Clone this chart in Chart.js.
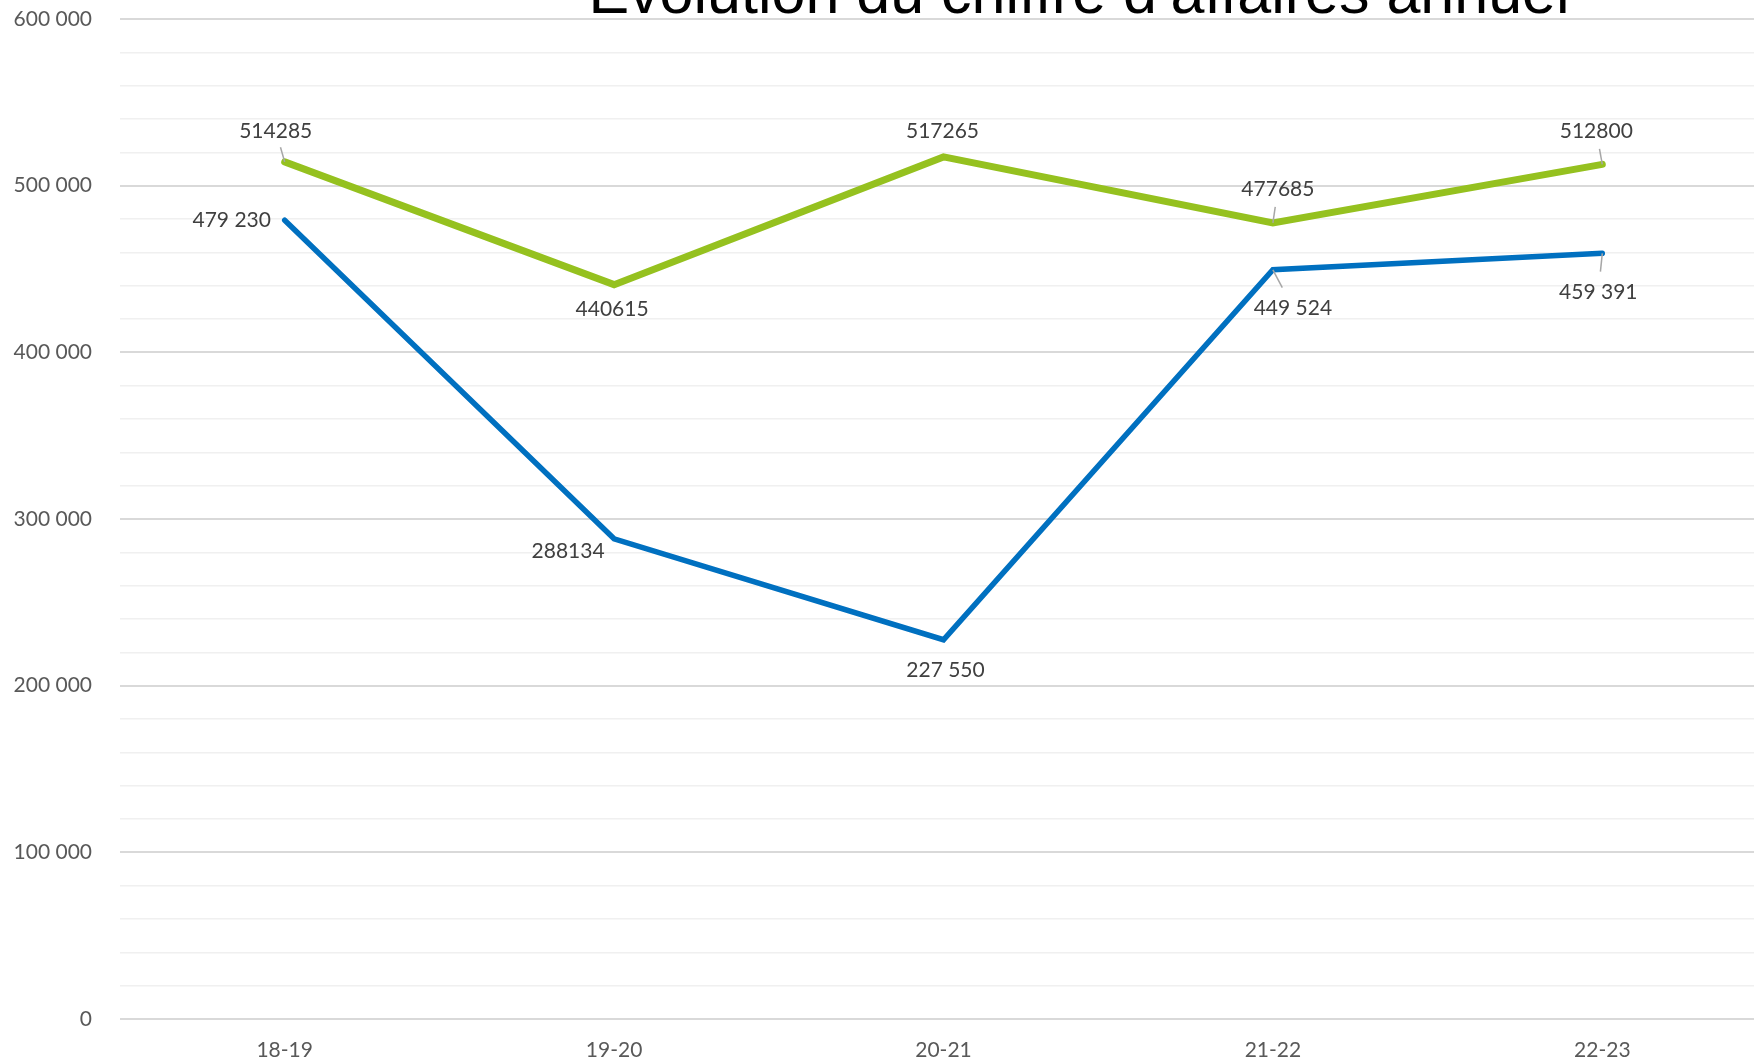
<!DOCTYPE html>
<html lang="fr">
<head>
<meta charset="utf-8">
<title>Evolution du chiffre d'affaires annuel</title>
<script src="https://cdn.jsdelivr.net/npm/chart.js@4.4.1/dist/chart.umd.min.js"></script>
<style>
    html, body { margin: 0; padding: 0; background: #fff; overflow: hidden; }
    #wrap { position: absolute; left: 0; top: 0; width: 1767px; height: 1062px; }
</style>
</head>
<body>
<div id="wrap"><canvas id="caChart"></canvas></div>
<script>
// Data
const categories = ['18-19', '19-20', '20-21', '21-22', '22-23'];
const greenValues = [514285, 440615, 517265, 477685, 512800];
const blueValues = [479230, 288134, 227550, 449524, 459391];
const greenLabels = ['514285', '440615', '517265', '477685', '512800'];
const blueLabels = ['479 230', '288134', '227 550', '449 524', '459 391'];
const yTickLabels = ['0', '100 000', '200 000', '300 000', '400 000', '500 000', '600 000'];
const chartTitle = 'Evolution du chiffre d’affaires annuel';

// Label placement (pixels from the point) and leader lines
const greenLabelOffsets = [[-9, -31], [-2, 25], [-1, -26], [5, -34], [-6, -33]];
const blueLabelOffsets = [[-53, 0], [-46, 12], [2, 30], [20, 38], [-4, 39]];
const greenLeaders = [true, false, false, true, true];
const blueLeaders = [false, false, false, true, true];

const labelFont = '21px Lato, "Open Sans", sans-serif';

// Draws the value labels next to each point
const valueLabels = {
    id: 'valueLabels',
    afterDatasetsDraw(chart) {
        const ctx = chart.ctx;
        const sets = [
            { meta: chart.getDatasetMeta(0), text: greenLabels, off: greenLabelOffsets, lead: greenLeaders },
            { meta: chart.getDatasetMeta(1), text: blueLabels, off: blueLabelOffsets, lead: blueLeaders }
        ];
        ctx.save();
        sets.forEach(set => {
            set.meta.data.forEach((pt, i) => {
                const lx = pt.x + set.off[i][0];
                const ly = pt.y + set.off[i][1];
                if (set.lead[i]) {
                    ctx.strokeStyle = '#a6a6a6';
                    ctx.lineWidth = 1.5;
                    ctx.beginPath();
                    ctx.moveTo(pt.x, pt.y);
                    ctx.lineTo(pt.x + (lx - pt.x) * 0.47, pt.y + (ly - pt.y) * 0.47);
                    ctx.stroke();
                }
                ctx.font = labelFont;
                ctx.fillStyle = '#404040';
                ctx.textAlign = 'center';
                ctx.textBaseline = 'middle';
                ctx.fillText(set.text[i], lx, ly);
            });
        });
        ctx.restore();
    }
};

// Title sits partly above the top edge, as in the picture
const clippedTitle = {
    id: 'clippedTitle',
    afterDraw(chart) {
        const ctx = chart.ctx;
        ctx.save();
        ctx.font = '61px "Liberation Sans", Arial, sans-serif';
        ctx.fillStyle = '#000';
        ctx.textAlign = 'center';
        ctx.textBaseline = 'alphabetic';
        ctx.fillText(chartTitle, 1079, 12.5);
        ctx.restore();
    }
};

const ctx = document.getElementById('caChart');
const caChart = new Chart(ctx, {
    type: 'line',
    data: {
        labels: categories,
        datasets: [{
            label: 'CA',
            data: greenValues,
            borderColor: '#95c11f',
            borderWidth: 7,
            borderCapStyle: 'round',
            pointRadius: 0,
            tension: 0
        }, {
            label: 'CA 2',
            data: blueValues,
            borderColor: '#0070c0',
            borderWidth: 5.5,
            borderCapStyle: 'round',
            pointRadius: 0,
            tension: 0
        }]
    },
    options: {
        responsive: true,
        maintainAspectRatio: false,
        animation: false,
        layout: { padding: { top: 19, left: 0, right: 0, bottom: 0 } },
        plugins: {
            legend: { display: false },
            title: { display: false },
            tooltip: { enabled: false }
        },
        scales: {
            x: {
                offset: true,
                grid: { display: false },
                border: { display: false },
                ticks: {
                    color: '#595959',
                    font: { family: 'Lato, "Open Sans", sans-serif', size: 21 },
                    padding: 11
                },
                afterFit(scale) { scale.height = 43; }
            },
            y: {
                min: 0,
                max: 600000,
                border: { display: false },
                grid: {
                    drawTicks: false,
                    color: c => (c.tick && c.tick.value % 100000 === 0) ? '#d9d9d9' : '#f0f0f0',
                    lineWidth: c => (c.tick && c.tick.value % 100000 === 0) ? 2 : 1.5
                },
                ticks: {
                    stepSize: 20000,
                    autoSkip: false,
                    padding: 28,
                    color: '#595959',
                    font: { family: 'Lato, "Open Sans", sans-serif', size: 21 },
                    callback: value => value % 100000 === 0 ? yTickLabels[value / 100000] : ''
                },
                afterFit(scale) {
                    scale.width = 120;
                    scale.paddingTop = 0;
                    scale.paddingBottom = 0;
                }
            }
        }
    },
    plugins: [valueLabels, clippedTitle]
});
</script>
</body>
</html>
